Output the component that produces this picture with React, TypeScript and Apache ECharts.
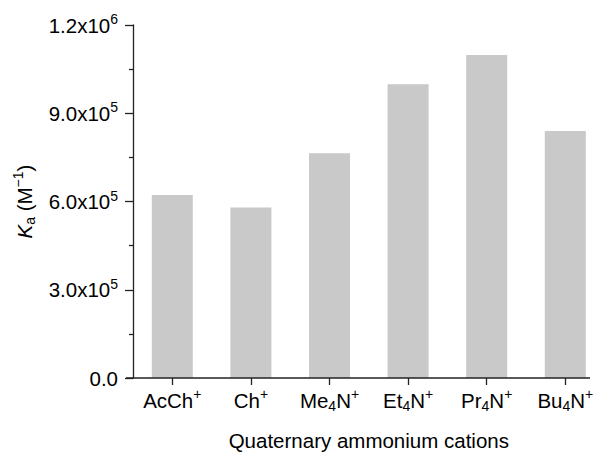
import React, { useEffect, useRef } from "react";
import * as echarts from "echarts";

const categories = [
  "{n|AcCh}{sup|+}",
  "{n|Ch}{sup|+}",
  "{n|Me}{sub|4}{n|N}{sup|+}",
  "{n|Et}{sub|4}{n|N}{sup|+}",
  "{n|Pr}{sub|4}{n|N}{sup|+}",
  "{n|Bu}{sub|4}{n|N}{sup|+}",
];
const kaValues = [622000, 580000, 764000, 999000, 1098000, 840000];

const FONT = "'Liberation Sans', Arial, sans-serif";
const FS = 20.5;
const SFS = 14;

const richStyles = {
  n: { fontSize: FS, fontFamily: FONT, color: "#000", lineHeight: 26 },
  sup: { fontSize: SFS, fontFamily: FONT, color: "#000", verticalAlign: "top", lineHeight: 15 },
  sub: { fontSize: SFS, fontFamily: FONT, color: "#000", verticalAlign: "bottom", lineHeight: 15 },
  i: { fontSize: FS, fontFamily: FONT, color: "#000", fontStyle: "italic", lineHeight: 26 },
};

function formatTick(v: number): string {
  if (v === 0) return "{n|0.0}";
  const exp = Math.floor(Math.log10(v));
  const mant = v / Math.pow(10, exp);
  return "{n|" + mant.toFixed(1) + "x10}{sup|" + exp + "}";
}

export default function App() {
  const ref = useRef<HTMLDivElement>(null);
  useEffect(() => {
    if (!ref.current) return;
    const chart = echarts.init(ref.current, null, { renderer: "svg" });
    chart.setOption({
      animation: false,
      backgroundColor: "#fff",
      grid: { left: 133, right: 0.4, top: 25, bottom: 78, containLabel: false, outerBoundsMode: "none" },
      xAxis: {
        type: "category",
        data: categories,
        name: "{n|Quaternary ammonium cations}",
        nameLocation: "middle",
        nameGap: 49,
        nameTextStyle: { fontSize: FS, fontFamily: FONT, color: "#000", rich: richStyles },
        axisLine: { show: false },
        axisTick: { show: true, alignWithLabel: true, length: 7, lineStyle: { color: "#222", width: 1.3 } },
        axisLabel: {
          interval: 0,
          fontSize: FS,
          fontFamily: FONT,
          color: "#000",
          margin: 9,
          rich: richStyles,
        },
      },
      yAxis: {
        type: "value",
        min: 0,
        max: 1200000,
        interval: 300000,
        name: "{i|K}{sub|a}{n| (M}{sup|−1}{n|)}",
        nameLocation: "middle",
        nameGap: 96,
        nameRotate: 90,
        nameTextStyle: { fontSize: FS, fontFamily: FONT, color: "#000", rich: richStyles },
        axisLine: { show: true, lineStyle: { color: "#222", width: 1.3 } },
        axisTick: { show: true, inside: false, length: 8, lineStyle: { color: "#222", width: 1.3 } },
        minorTick: { show: true, splitNumber: 2, length: 4, lineStyle: { color: "#222", width: 1.3 } },
        splitLine: { show: false },
        axisLabel: {
          fontSize: FS,
          fontFamily: FONT,
          color: "#000",
          margin: 15,
          formatter: (v: number) => formatTick(v),
          rich: richStyles,
        },
      },
      graphic: [
        {
          type: "line",
          shape: { x1: 126, y1: 378, x2: 590, y2: 378 },
          style: { stroke: "#222", lineWidth: 1.3 },
          z: 10,
        },
      ],
      series: [
        {
          type: "bar",
          data: kaValues,
          barWidth: 41,
          itemStyle: { color: "#c9c9c9" },
        },
      ],
    });
    return () => chart.dispose();
  }, []);
  return <div ref={ref} style={{ width: 605, height: 456, position: "absolute", left: 0, top: 0 }} />;
}
